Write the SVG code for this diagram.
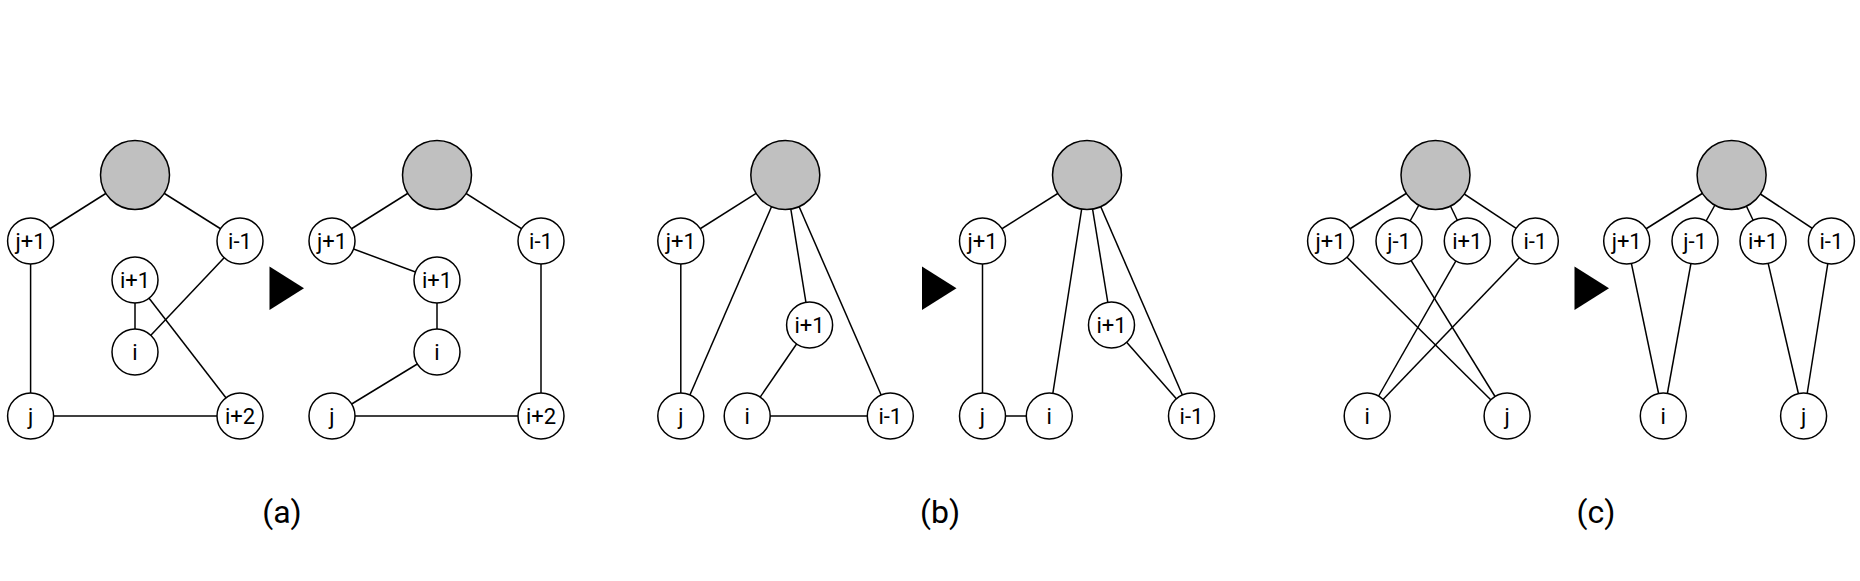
<svg xmlns="http://www.w3.org/2000/svg" width="1860" height="581" viewBox="0 0 1860 581">
<style>
.n{fill:#fff;stroke:#000;stroke-width:1.5}
.g{fill:#c0c0c0;stroke:#000;stroke-width:1.5}
.e{stroke:#000;stroke-width:1.5;fill:none}
.t{font-family:Roboto,"Liberation Sans",sans-serif;font-size:22px;text-anchor:middle;fill:#000}
.cap{font-family:Roboto,"Liberation Sans",sans-serif;font-size:32px;text-anchor:middle;fill:#000}
.arr{fill:#000}
</style>
<rect width="1860" height="581" fill="#fff"/>
<g id="connectors">
<!-- (a) left -->
<line class="e" x1="135" y1="175" x2="30.6" y2="241"/>
<line class="e" x1="135" y1="175" x2="240" y2="241"/>
<line class="e" x1="30.6" y1="241" x2="30.6" y2="416"/>
<line class="e" x1="30.6" y1="416" x2="240" y2="416"/>
<line class="e" x1="135" y1="280" x2="135" y2="352"/>
<line class="e" x1="135" y1="280" x2="240" y2="416"/>
<line class="e" x1="240" y1="241" x2="135" y2="352"/>
<!-- (a) right -->
<line class="e" x1="437" y1="175" x2="332" y2="241"/>
<line class="e" x1="437" y1="175" x2="541" y2="241"/>
<line class="e" x1="332" y1="241" x2="437" y2="280"/>
<line class="e" x1="437" y1="280" x2="437" y2="352"/>
<line class="e" x1="437" y1="352" x2="332" y2="416"/>
<line class="e" x1="332" y1="416" x2="541" y2="416"/>
<line class="e" x1="541" y1="241" x2="541" y2="416"/>
<!-- (b) left -->
<line class="e" x1="785.3" y1="175" x2="680.8" y2="241"/>
<line class="e" x1="680.8" y1="241" x2="680.8" y2="416"/>
<line class="e" x1="785.3" y1="175" x2="680.8" y2="416"/>
<line class="e" x1="785.3" y1="175" x2="809.6" y2="325"/>
<line class="e" x1="785.3" y1="175" x2="890.3" y2="416"/>
<line class="e" x1="809.6" y1="325" x2="747.2" y2="416"/>
<line class="e" x1="747.2" y1="416" x2="890.3" y2="416"/>
<!-- (b) right -->
<line class="e" x1="1087" y1="175" x2="982.5" y2="241"/>
<line class="e" x1="982.5" y1="241" x2="982.5" y2="416"/>
<line class="e" x1="982.5" y1="416" x2="1049.3" y2="416"/>
<line class="e" x1="1087" y1="175" x2="1049.3" y2="416"/>
<line class="e" x1="1087" y1="175" x2="1111.5" y2="325"/>
<line class="e" x1="1087" y1="175" x2="1191.5" y2="416"/>
<line class="e" x1="1111.5" y1="325" x2="1191.5" y2="416"/>
<!-- (c) left -->
<line class="e" x1="1435.5" y1="175" x2="1330.6" y2="241"/>
<line class="e" x1="1435.5" y1="175" x2="1399" y2="241"/>
<line class="e" x1="1435.5" y1="175" x2="1467.3" y2="241"/>
<line class="e" x1="1435.5" y1="175" x2="1535.3" y2="241"/>
<line class="e" x1="1330.6" y1="241" x2="1507.1" y2="416"/>
<line class="e" x1="1399" y1="241" x2="1507.1" y2="416"/>
<line class="e" x1="1467.3" y1="241" x2="1367.2" y2="416"/>
<line class="e" x1="1535.3" y1="241" x2="1367.2" y2="416"/>
<!-- (c) right -->
<line class="e" x1="1731.6" y1="175" x2="1626.7" y2="241"/>
<line class="e" x1="1731.6" y1="175" x2="1695" y2="241"/>
<line class="e" x1="1731.6" y1="175" x2="1763" y2="241"/>
<line class="e" x1="1731.6" y1="175" x2="1831.4" y2="241"/>
<line class="e" x1="1626.7" y1="241" x2="1663.3" y2="416"/>
<line class="e" x1="1695" y1="241" x2="1663.3" y2="416"/>
<line class="e" x1="1763" y1="241" x2="1803.6" y2="416"/>
<line class="e" x1="1831.4" y1="241" x2="1803.6" y2="416"/>
</g>
<!-- (a) left nodes -->
<g id="a1-top"><circle class="g" cx="135" cy="175" r="34.5"/></g>
<g id="a1-jp1"><circle class="n" cx="30.6" cy="241" r="23"/><text class="t" x="30.6" y="249">j+1</text></g>
<g id="a1-im1"><circle class="n" cx="240" cy="241" r="23"/><text class="t" x="240" y="249">i-1</text></g>
<g id="a1-ip1"><circle class="n" cx="135" cy="280" r="23"/><text class="t" x="135" y="288">i+1</text></g>
<g id="a1-i"><circle class="n" cx="135" cy="352" r="23"/><text class="t" x="135" y="360">i</text></g>
<g id="a1-j"><circle class="n" cx="30.6" cy="416" r="23"/><text class="t" x="30.6" y="424">j</text></g>
<g id="a1-ip2"><circle class="n" cx="240" cy="416" r="23"/><text class="t" x="240" y="424">i+2</text></g>
<!-- (a) right nodes -->
<g id="a2-top"><circle class="g" cx="437" cy="175" r="34.5"/></g>
<g id="a2-jp1"><circle class="n" cx="332" cy="241" r="23"/><text class="t" x="332" y="249">j+1</text></g>
<g id="a2-im1"><circle class="n" cx="541" cy="241" r="23"/><text class="t" x="541" y="249">i-1</text></g>
<g id="a2-ip1"><circle class="n" cx="437" cy="280" r="23"/><text class="t" x="437" y="288">i+1</text></g>
<g id="a2-i"><circle class="n" cx="437" cy="352" r="23"/><text class="t" x="437" y="360">i</text></g>
<g id="a2-j"><circle class="n" cx="332" cy="416" r="23"/><text class="t" x="332" y="424">j</text></g>
<g id="a2-ip2"><circle class="n" cx="541" cy="416" r="23"/><text class="t" x="541" y="424">i+2</text></g>
<!-- (b) left nodes -->
<g id="b1-top"><circle class="g" cx="785.3" cy="175" r="34.5"/></g>
<g id="b1-jp1"><circle class="n" cx="680.8" cy="241" r="23"/><text class="t" x="680.8" y="249">j+1</text></g>
<g id="b1-ip1"><circle class="n" cx="809.6" cy="325" r="23"/><text class="t" x="809.6" y="333">i+1</text></g>
<g id="b1-j"><circle class="n" cx="680.8" cy="416" r="23"/><text class="t" x="680.8" y="424">j</text></g>
<g id="b1-i"><circle class="n" cx="747.2" cy="416" r="23"/><text class="t" x="747.2" y="424">i</text></g>
<g id="b1-im1"><circle class="n" cx="890.3" cy="416" r="23"/><text class="t" x="890.3" y="424">i-1</text></g>
<!-- (b) right nodes -->
<g id="b2-top"><circle class="g" cx="1087" cy="175" r="34.5"/></g>
<g id="b2-jp1"><circle class="n" cx="982.5" cy="241" r="23"/><text class="t" x="982.5" y="249">j+1</text></g>
<g id="b2-ip1"><circle class="n" cx="1111.5" cy="325" r="23"/><text class="t" x="1111.5" y="333">i+1</text></g>
<g id="b2-j"><circle class="n" cx="982.5" cy="416" r="23"/><text class="t" x="982.5" y="424">j</text></g>
<g id="b2-i"><circle class="n" cx="1049.3" cy="416" r="23"/><text class="t" x="1049.3" y="424">i</text></g>
<g id="b2-im1"><circle class="n" cx="1191.5" cy="416" r="23"/><text class="t" x="1191.5" y="424">i-1</text></g>
<!-- (c) left nodes -->
<g id="c1-top"><circle class="g" cx="1435.5" cy="175" r="34.5"/></g>
<g id="c1-jp1"><circle class="n" cx="1330.6" cy="241" r="23"/><text class="t" x="1330.6" y="249">j+1</text></g>
<g id="c1-jm1"><circle class="n" cx="1399" cy="241" r="23"/><text class="t" x="1399" y="249">j-1</text></g>
<g id="c1-ip1"><circle class="n" cx="1467.3" cy="241" r="23"/><text class="t" x="1467.3" y="249">i+1</text></g>
<g id="c1-im1"><circle class="n" cx="1535.3" cy="241" r="23"/><text class="t" x="1535.3" y="249">i-1</text></g>
<g id="c1-i"><circle class="n" cx="1367.2" cy="416" r="23"/><text class="t" x="1367.2" y="424">i</text></g>
<g id="c1-j"><circle class="n" cx="1507.1" cy="416" r="23"/><text class="t" x="1507.1" y="424">j</text></g>
<!-- (c) right nodes -->
<g id="c2-top"><circle class="g" cx="1731.6" cy="175" r="34.5"/></g>
<g id="c2-jp1"><circle class="n" cx="1626.7" cy="241" r="23"/><text class="t" x="1626.7" y="249">j+1</text></g>
<g id="c2-jm1"><circle class="n" cx="1695" cy="241" r="23"/><text class="t" x="1695" y="249">j-1</text></g>
<g id="c2-ip1"><circle class="n" cx="1763" cy="241" r="23"/><text class="t" x="1763" y="249">i+1</text></g>
<g id="c2-im1"><circle class="n" cx="1831.4" cy="241" r="23"/><text class="t" x="1831.4" y="249">i-1</text></g>
<g id="c2-i"><circle class="n" cx="1663.3" cy="416" r="23"/><text class="t" x="1663.3" y="424">i</text></g>
<g id="c2-j"><circle class="n" cx="1803.6" cy="416" r="23"/><text class="t" x="1803.6" y="424">j</text></g>
<!-- transformation arrows -->
<g id="arrows">
<polygon class="arr" points="269.5,266.5 304,288.3 269.5,310"/>
<polygon class="arr" points="922,266.5 956.5,288.3 922,310"/>
<polygon class="arr" points="1574.5,266.5 1609,288.3 1574.5,310"/>
</g>
<g id="captions">
<text class="cap" x="282" y="522.5">(a)</text>
<text class="cap" x="940" y="522.5">(b)</text>
<text class="cap" x="1596" y="522.5">(c)</text>
</g>
</svg>
